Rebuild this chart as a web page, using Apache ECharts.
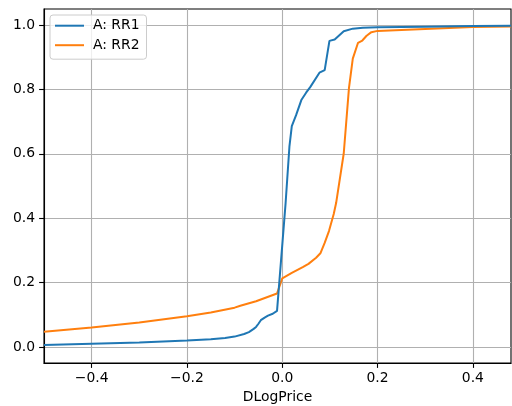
<!DOCTYPE html>
<html>
<head>
<meta charset="utf-8">
<script src="https://cdn.jsdelivr.net/npm/echarts@6/dist/echarts.min.js"></script>
<style>
html,body{margin:0;padding:0;background:#fff;}
#chart{width:512px;height:406px;}
</style>
</head>
<body>
<div id="chart"></div>
<script>
const seriesNames = ['A: RR1', 'A: RR2'];
const rr1X = [-0.5, -0.4, -0.3, -0.2, -0.15, -0.12, -0.1, -0.08, -0.07, -0.06, -0.055, -0.05, -0.045, -0.037, -0.03, -0.02, -0.011, 0.007, 0.015, 0.02, 0.029, 0.04, 0.05, 0.059, 0.078, 0.089, 0.099, 0.11, 0.129, 0.148, 0.169, 0.2, 0.3, 0.4, 0.48];
const rr1Y = [0.006, 0.010, 0.014, 0.020, 0.024, 0.028, 0.032, 0.040, 0.046, 0.056, 0.062, 0.072, 0.083, 0.091, 0.097, 0.103, 0.112, 0.447, 0.622, 0.686, 0.720, 0.767, 0.790, 0.808, 0.852, 0.860, 0.951, 0.955, 0.981, 0.989, 0.992, 0.993, 0.995, 0.997, 0.998];
const rr2X = [-0.5, -0.4, -0.3, -0.2, -0.15, -0.1, -0.088, -0.055, -0.011, 0.0, 0.02, 0.043, 0.055, 0.071, 0.08, 0.089, 0.098, 0.108, 0.113, 0.129, 0.14, 0.148, 0.159, 0.168, 0.177, 0.187, 0.2, 0.3, 0.4, 0.48];
const rr2Y = [0.047, 0.060, 0.076, 0.095, 0.107, 0.122, 0.128, 0.142, 0.166, 0.213, 0.230, 0.248, 0.258, 0.277, 0.291, 0.323, 0.360, 0.413, 0.447, 0.601, 0.805, 0.896, 0.945, 0.952, 0.967, 0.978, 0.982, 0.988, 0.994, 0.996];
const xTicks = [-0.4, -0.2, 0.0, 0.2, 0.4];
const yTicks = [0.0, 0.2, 0.4, 0.6, 0.8, 1.0];
const xName = 'DLogPrice';

const fmt = v => (v < 0 ? '\u2212' : '') + Math.abs(v).toFixed(1);
const pairs = (xs, ys) => xs.map((x, i) => [x, ys[i]]);
const font = 'DejaVu Sans';
const fs = 13.9;

const chart = echarts.init(document.getElementById('chart'), null, {renderer: 'canvas'});
chart.setOption({
  animation: false,
  backgroundColor: '#fff',
  grid: {left: 44, right: 1, top: 9, bottom: 43, containLabel: false, outerBoundsMode: 'none', show: true, borderColor: '#000', borderWidth: 1.1, backgroundColor: 'transparent'},
  legend: {
    left: 50, top: 15, orient: 'vertical',
    icon: 'rect', itemWidth: 29, itemHeight: 2, itemGap: 5.5,
    padding: [3.7, 7, 7, 5],
    backgroundColor: 'rgba(255,255,255,0.8)', borderColor: '#cccccc', borderWidth: 1, borderRadius: 3,
    textStyle: {fontFamily: font, fontSize: fs, color: '#000', lineHeight: 14, padding: [0, 0, 0, 4]},
    data: seriesNames
  },
  xAxis: {
    type: 'value', min: -0.5, max: 0.48,
    name: xName, nameLocation: 'middle', nameGap: 26,
    nameTextStyle: {fontFamily: font, fontSize: fs, color: '#000'},
    axisLine: {show: true, onZero: false, lineStyle: {color: '#000', width: 1.1}},
    axisTick: {show: true, length: 4.9, lineStyle: {color: '#000', width: 1.1}, customValues: xTicks},
    axisLabel: {fontFamily: font, fontSize: fs, color: '#000', margin: 8, customValues: xTicks, formatter: fmt},
    splitLine: {show: true, lineStyle: {color: '#b0b0b0', width: 1.1}, customValues: xTicks}
  },
  yAxis: {
    type: 'value', min: -0.05, max: 1.05,
    axisLine: {show: true, onZero: false, lineStyle: {color: '#000', width: 1.1}},
    axisTick: {show: true, length: 4.9, lineStyle: {color: '#000', width: 1.1}, customValues: yTicks},
    axisLabel: {fontFamily: font, fontSize: fs, color: '#000', margin: 9, customValues: yTicks, formatter: fmt},
    splitLine: {show: true, lineStyle: {color: '#b0b0b0', width: 1.1}, customValues: yTicks}
  },
  series: [
    {name: seriesNames[0], type: 'line', data: pairs(rr1X, rr1Y), showSymbol: false, symbol: 'none', lineStyle: {color: '#1f77b4', width: 2}, itemStyle: {color: '#1f77b4'}, z: 3},
    {name: seriesNames[1], type: 'line', data: pairs(rr2X, rr2Y), showSymbol: false, symbol: 'none', lineStyle: {color: '#ff7f0e', width: 2}, itemStyle: {color: '#ff7f0e'}, z: 2}
  ]
});
</script>
</body>
</html>
